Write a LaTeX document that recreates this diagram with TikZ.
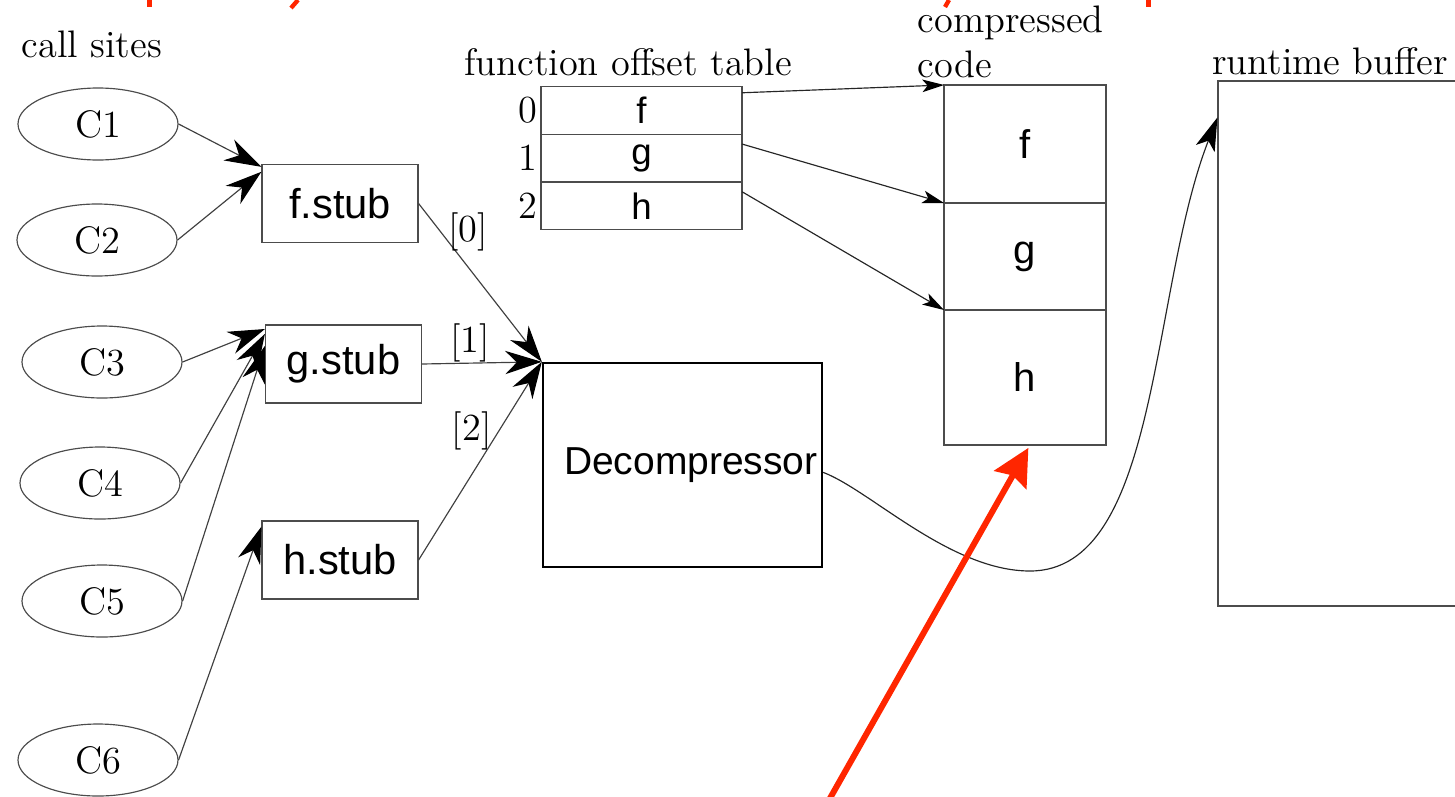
\documentclass[tikz,border=0pt]{standalone}
\usepackage{fontspec}
\setsansfont{Liberation Sans}
\usetikzlibrary{arrows.meta,positioning,calc,shapes.geometric}
\definecolor{alertred}{RGB}{255,38,0}
\newcommand\romsize{\fontsize{11.5}{13.5}\selectfont}
\newcommand\sanssize{\sffamily\fontsize{12.5}{15}\selectfont}

\begin{document}
\begin{tikzpicture}
  [
  x=0.3pt,y=-0.3pt,
  site/.style={ellipse,draw=black!70,line width=0.35pt,inner sep=0pt,minimum width=48pt,minimum height=21.6pt,font=\romsize},
  stub/.style={rectangle,draw=black!70,line width=0.35pt,minimum width=46.8pt,minimum height=23.4pt,font=\sanssize},
  decomp/.style={rectangle,draw=black,line width=0.7pt,minimum width=83.7pt,minimum height=61.2pt,inner sep=0pt,font=\sffamily\fontsize{11.7}{14}\selectfont},
  cell/.style={rectangle,draw=black!70,line width=0.35pt,outer sep=0pt,minimum width=60.3pt,minimum height=14.3pt,inner sep=0pt,font=\sffamily\fontsize{11}{13}\selectfont},
  codepart/.style={rectangle,draw=black!70,line width=0.35pt,outer sep=0pt,minimum width=48.6pt,inner sep=0pt,font=\sffamily\fontsize{12}{14}\selectfont},
  buffer/.style={rectangle,draw=black!70,line width=0.35pt,minimum width=90pt,minimum height=157.5pt},
  title/.style={font=\romsize,inner sep=0pt},
  idx/.style={font=\romsize,inner sep=1pt},
  lbl/.style={font=\romsize,inner sep=2pt},
  big/.style={-{Stealth[length=11pt,width=7pt,inset=3.5pt,color=black]},draw=black!75,line width=0.35pt},
  small/.style={-{Stealth[length=6.5pt,width=3.8pt,inset=1.6pt,color=black]},draw=black!85,line width=0.35pt},
  curvy/.style={-{Stealth[length=10pt,width=6pt,inset=2.5pt,color=black]},draw=black!85,line width=0.35pt},
  redarrow/.style={-{Stealth[length=11pt,width=11pt,inset=1.5pt]},draw=alertred,line width=1.8pt,shorten >=1pt},
  redmark/.style={draw=alertred,line width=1.3pt}
  ]
  \path[use as bounding box,clip] (0,0) rectangle (1455,796);

  % call sites
  \node[title] (sitestitle) at (92,44) {call sites};
  \node[site] (c1) at (98,124) {C1};
  \node[site] (c2) at (97,240) {C2};
  \node[site] (c3) at (102,362) {C3};
  \node[site] (c4) at (100,483) {C4};
  \node[site] (c5) at (102,601) {C5};
  \node[site] (c6) at (98,760) {C6};

  % stubs and decompressor
  \node[stub] (fstub) at (340,203.5) {f.stub};
  \node[stub] (gstub) at (343.5,364) {g.stub};
  \node[stub] (hstub) at (340,560) {h.stub};
  \node[decomp] (dec) at (682.5,465) {\hspace{5pt}Decompressor};

  % function offset table
  \node[title] (tabletitle) at (628,62) {function offset table};
  \node[cell] (row0) at (641.5,110.5) {f};
  \node[cell] (row1) [below=0pt of row0] {g};
  \node[cell] (row2) [below=0pt of row1] {h};
  \node[idx] (i0) [left=0pt of row0] {0};
  \node[idx] (i1) [left=0pt of row1] {1};
  \node[idx] (i2) [left=0pt of row2] {2};

  % compressed code and runtime buffer
  \node[title,align=left,anchor=north west] (codetitle) at (917,5) {compressed\\code};
  \node[codepart,minimum height=35.4pt] (cf) at (1025,144) {f};
  \node[codepart,minimum height=32.1pt] (cg) [below=0pt of cf] {g};
  \node[codepart,minimum height=40.5pt] (ch) [below=0pt of cg] {h};
  \node[title] (buftitle) at (1330,61) {runtime buffer};
  \node[buffer] (buf) at (1368,343.5) {};

  % calls into the stubs
  \draw[big] (c1.east) -- (fstub.155);
  \draw[big] (c2.east) -- (fstub.158);
  \draw[big] (c3.east) -- (gstub.156.6);
  \draw[big] (c4.east) -- (gstub.159);
  \draw[big] (c5.east) -- (gstub.167);
  \draw[big] (c6.east) -- (hstub.157);

  % stubs to decompressor
  \draw[big] (fstub.east) -- node[pos=0.18,right,lbl] {[0]} (dec.north west);
  \draw[big] (gstub.east) -- node[pos=0.4,above,inner sep=0pt,font=\romsize] {[1]} (dec.north west);
  \draw[big] (hstub.east) -- node[pos=0.65,left,lbl] {[2]} (dec.north west);

  % offsets
  \draw[small] (row0.10) -- (cf.north west);
  \draw[small] (row1.8) -- (cg.north west);
  \draw[small] (row2.8) -- (ch.north west);

  \draw[curvy] (dec.-3) .. controls (870,490) and (950,571) .. (1030,571)
    .. controls (1160,571) and (1150,290) .. ($(buf.north west)+(0,37)$);

  % red pointer
  \coordinate (redtail) at (829,800);
  \draw[redarrow] (redtail) -- ($(ch.south)+(5,0)$);
  \draw[redmark] (149.5,0) -- (149.5,7);
  \draw[redmark] (298,0) -- (291,8);
  \draw[redmark] (949,0) -- (945,7);
  \draw[redmark] (1148.5,0) -- (1148.5,7);
\end{tikzpicture}
\end{document}
